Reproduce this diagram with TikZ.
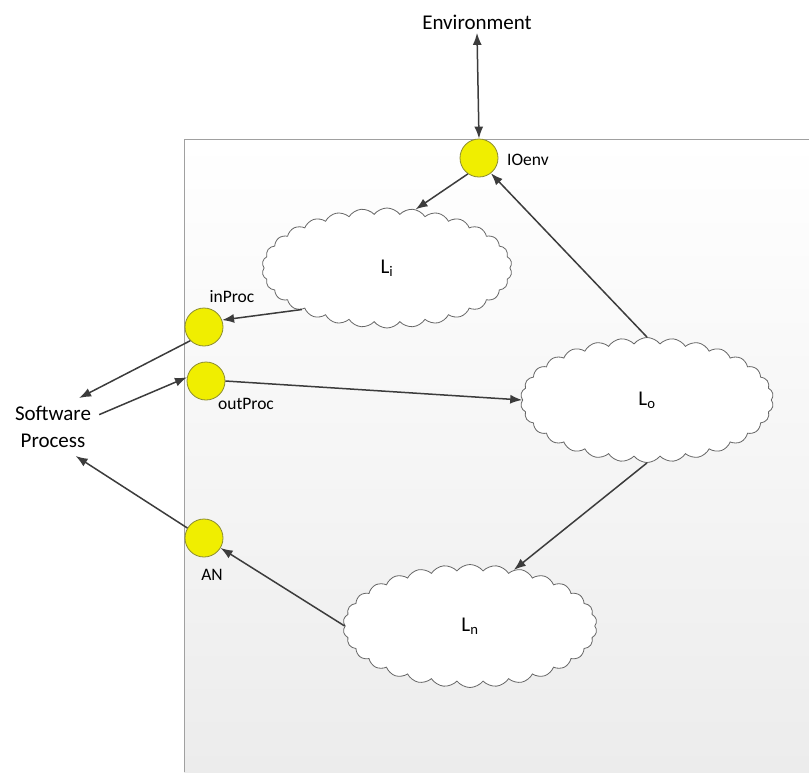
\documentclass[tikz,border=0pt]{standalone}
\usepackage{fontspec}
\setmainfont{Carlito}
\usetikzlibrary{shapes.symbols,arrows.meta}
\definecolor{linegray}{RGB}{60,60,60}
\definecolor{framegray}{RGB}{160,160,160}
\definecolor{bgbottom}{RGB}{236,236,236}
\definecolor{portfill}{RGB}{240,238,0}
\definecolor{portline}{RGB}{140,140,50}
\tikzset{
  x=1pt, y=-1pt,
  bigtext/.style={font=\fontsize{21}{27}\selectfont, text=black},
  smalltext/.style={font=\fontsize{17.5}{21}\selectfont, text=black},
  port/.style={circle, minimum size=38pt, inner sep=0pt, fill=portfill, draw=portline, line width=0.8pt},
  layer/.style={cloud, cloud puffs=30, cloud puff arc=105, cloud ignores aspect,
    draw=gray!80!black, fill=white, line width=0.8pt, inner sep=0pt,
    font=\fontsize{21}{27}\selectfont},
  flow/.style={draw=linegray, line width=1.5pt, -{Latex[length=12pt,width=9pt]}},
  bothflow/.style={draw=linegray, line width=1.5pt, {Latex[length=12pt,width=9pt]}-{Latex[length=12pt,width=9pt]}}
}
\begin{document}
\begin{tikzpicture}
\useasboundingbox (0,0) rectangle (809,772);
% system boundary with its soft vertical gradient
\shade[top color=white, bottom color=bgbottom] (184,139) rectangle (809,772);
\draw[framegray, line width=1pt] (184,772) -- (184,139) -- (809,139);

% external actors
\node[bigtext] (env) at (477,22) {Environment};
\node[bigtext, align=center, inner xsep=8pt, inner ysep=8pt] (sw) at (53,427) {Software\\Process};

% layers
\node[layer, minimum width=250pt, minimum height=120pt] (li) at (387,268) {L\textsubscript{i}};
\node[layer, minimum width=253pt, minimum height=125pt] (lo) at (647,400) {L\textsubscript{o}};
\node[layer, minimum width=254pt, minimum height=123pt] (ln) at (470,626) {L\textsubscript{n}};

% ports on the boundary
\node[port] (ioenv) at (479,158) {};
\node[port] (inproc) at (204,327) {};
\node[port] (outproc) at (206,381) {};
\node[port] (an) at (204,538) {};

\node[smalltext] (ioenvlbl) at (528,160) {IOenv};
\node[smalltext] (inproclbl) at (232,297) {inProc};
\node[smalltext] (outproclbl) at (246,404) {outProc};
\node[smalltext] (anlbl) at (212,575) {AN};

% connectors
\draw[bothflow] (env.south) -- (ioenv.north);
\draw[flow] (ioenv.235) -- (li.64);
\draw[flow] (lo.north) -- (ioenv.-52);
\draw[flow] (li.206) -- (inproc.21);
\draw[flow] (inproc.225) -- (sw.48);
\draw[flow] (sw.15) -- (outproc.169);
\draw[flow] (outproc.east) -- (lo.west);
\draw[flow] (lo.south) -- (ln.52);
\draw[flow] (ln.west) -- (an.-31);
\draw[flow] (an.149) -- (sw.-52);
\end{tikzpicture}
\end{document}
